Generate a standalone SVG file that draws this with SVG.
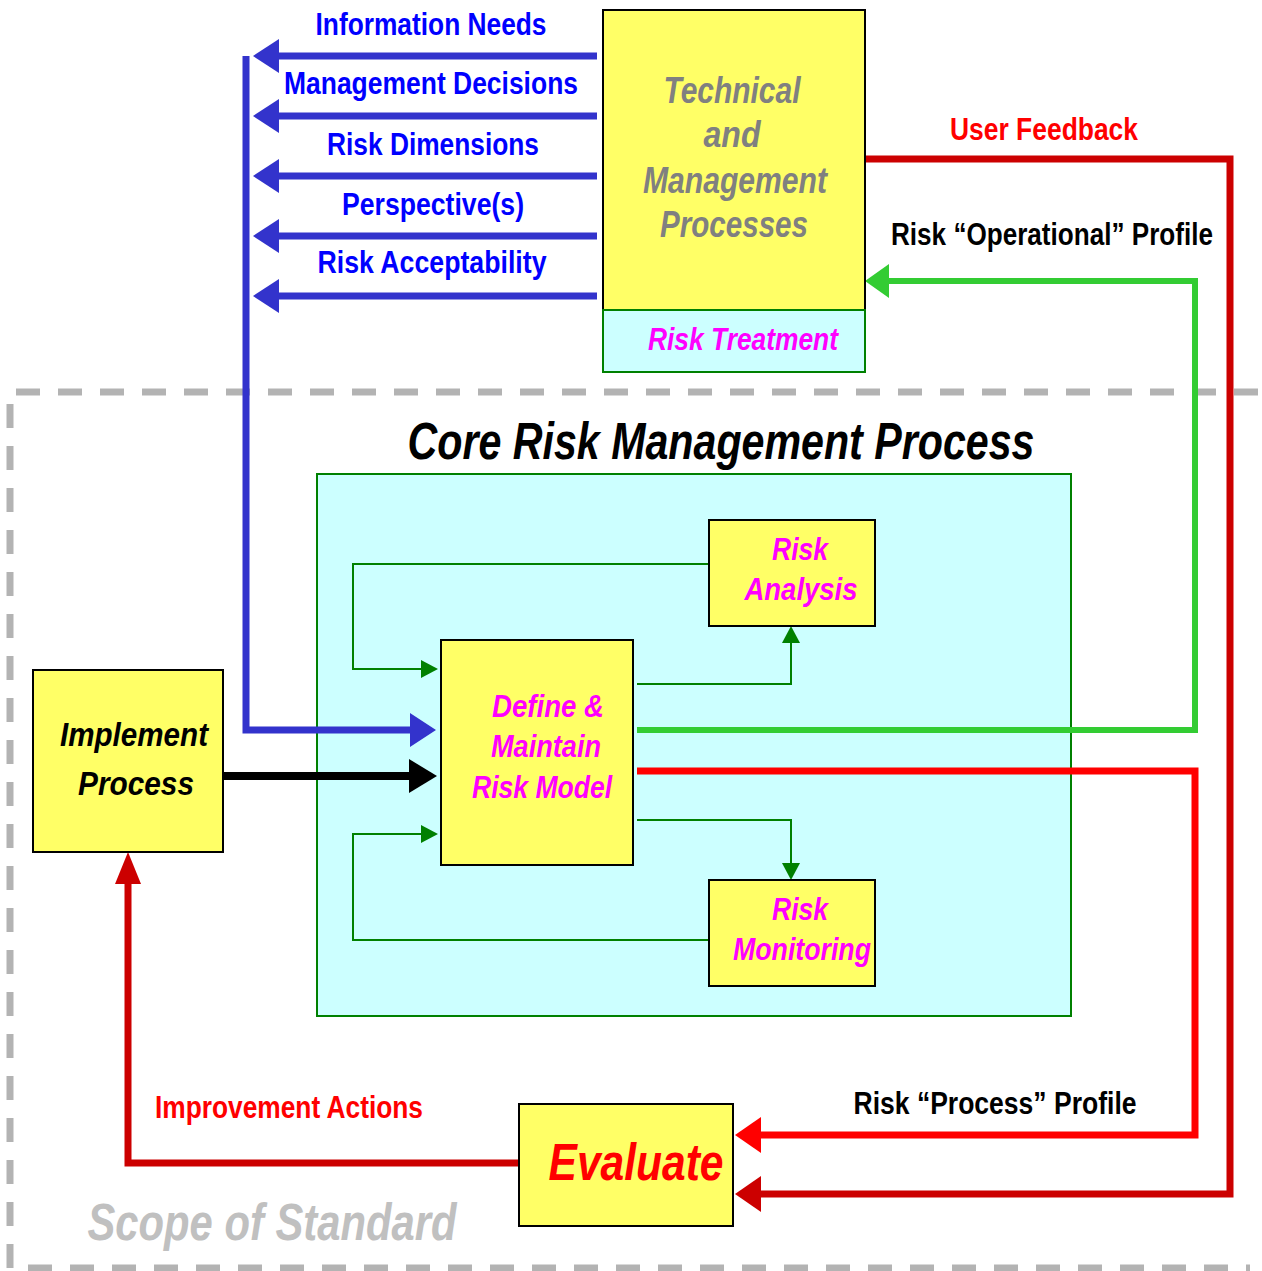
<svg xmlns="http://www.w3.org/2000/svg" width="1262" height="1271" viewBox="0 0 1262 1271">
<style>
text{font-family:"Liberation Sans",Arial,sans-serif;font-weight:bold;text-anchor:middle}
.it{font-style:italic}
.blue{fill:#0000ff;font-size:32px}
.gray{fill:#808080;font-size:36px}
.mag{fill:#ff00ff;font-size:32px}
.blk{fill:#000;font-size:32px}
.red{fill:#ff0000;font-size:32px}
.yb{fill:#ffff66;stroke:#000;stroke-width:2}
.cb{fill:#ccffff;stroke:#008000;stroke-width:2}
.ln{fill:none;stroke-linejoin:miter}
.bl{stroke:#3333cc;stroke-width:7}
.gt{stroke:#008000;stroke-width:2}
.gk{stroke:#33cc33;stroke-width:6}
.rb{stroke:#ff0000;stroke-width:7}
.rd{stroke:#cc0000;stroke-width:7}
.bk{stroke:#000;stroke-width:8}
</style>
<defs>
<marker id="aB" markerUnits="userSpaceOnUse" markerWidth="30" markerHeight="36" refX="0" refY="17" orient="auto" overflow="visible"><path d="M0,0 L26,17 L0,34 Z" fill="#3333cc"/></marker>
<marker id="aK" markerUnits="userSpaceOnUse" markerWidth="30" markerHeight="36" refX="0" refY="17" orient="auto" overflow="visible"><path d="M0,0 L28,17 L0,34 Z" fill="#000"/></marker>
<marker id="aG" markerUnits="userSpaceOnUse" markerWidth="20" markerHeight="20" refX="0" refY="9" orient="auto" overflow="visible"><path d="M0,0 L17,9 L0,18 Z" fill="#008000"/></marker>
<marker id="aGK" markerUnits="userSpaceOnUse" markerWidth="30" markerHeight="36" refX="0" refY="17" orient="auto" overflow="visible"><path d="M0,0 L24,17 L0,34 Z" fill="#33cc33"/></marker>
<marker id="aR" markerUnits="userSpaceOnUse" markerWidth="30" markerHeight="36" refX="0" refY="18" orient="auto" overflow="visible"><path d="M0,0 L26,18 L0,36 Z" fill="#ff0000"/></marker>
<marker id="aD" markerUnits="userSpaceOnUse" markerWidth="36" markerHeight="36" refX="0" refY="18" orient="auto" overflow="visible"><path d="M0,0 L26,18 L0,36 Z" fill="#cc0000"/></marker>
<marker id="aDu" markerUnits="userSpaceOnUse" markerWidth="36" markerHeight="30" refX="0" refY="13" orient="auto" overflow="visible"><path d="M0,0 L32,13 L0,26 Z" fill="#cc0000"/></marker>
</defs>
<rect width="1262" height="1271" fill="#fff"/>

<g id="scope">
<path d="M1258,392 H10 V1268 H1250" fill="none" stroke="#b3b3b3" stroke-width="7" stroke-dasharray="24,18"/>
<text x="272" y="1240" class="it" style="fill:#c0c0c0;font-size:52px" textLength="369" lengthAdjust="spacingAndGlyphs">Scope of Standard</text>
</g>

<g id="core">
<rect x="317" y="474" width="754" height="542" class="cb"/>
<text x="721" y="459" class="it blk" style="font-size:52px" textLength="627" lengthAdjust="spacingAndGlyphs">Core Risk Management Process</text>
</g>

<g id="connectors">
<path class="ln bl" d="M597,56 H279" marker-end="url(#aB)"/>
<path class="ln bl" d="M597,116 H279" marker-end="url(#aB)"/>
<path class="ln bl" d="M597,176 H279" marker-end="url(#aB)"/>
<path class="ln bl" d="M597,236 H279" marker-end="url(#aB)"/>
<path class="ln bl" d="M597,296 H279" marker-end="url(#aB)"/>
<path class="ln bl" d="M246,56 V730 H410" marker-end="url(#aB)"/>
<path class="ln bk" d="M223,776 H409" marker-end="url(#aK)"/>
<path class="ln gt" d="M709,564 H353 V669 H421" marker-end="url(#aG)"/>
<path class="ln gt" d="M637,684 H791 V643" marker-end="url(#aG)"/>
<path class="ln gt" d="M637,820 H791 V863" marker-end="url(#aG)"/>
<path class="ln gt" d="M709,940 H353 V834 H421" marker-end="url(#aG)"/>
<path class="ln gk" d="M637,730 H1195 V281 H889" marker-end="url(#aGK)"/>
<path class="ln rb" d="M637,771 H1195 V1135 H761" marker-end="url(#aR)"/>
<path class="ln rd" d="M865,159 H1230 V1194 H761" marker-end="url(#aD)"/>
<path class="ln rd" d="M519,1163 H128 V884" marker-end="url(#aDu)"/>
</g>

<g id="labels">
<text x="431" y="35" class="blue" textLength="231" lengthAdjust="spacingAndGlyphs">Information Needs</text>
<text x="431" y="94" class="blue" textLength="294" lengthAdjust="spacingAndGlyphs">Management Decisions</text>
<text x="433" y="155" class="blue" textLength="212" lengthAdjust="spacingAndGlyphs">Risk Dimensions</text>
<text x="433" y="215" class="blue" textLength="182" lengthAdjust="spacingAndGlyphs">Perspective(s)</text>
<text x="432" y="273" class="blue" textLength="229" lengthAdjust="spacingAndGlyphs">Risk Acceptability</text>
<text x="1044" y="140" class="red" textLength="188" lengthAdjust="spacingAndGlyphs">User Feedback</text>
<text x="1052" y="245" class="blk" textLength="322" lengthAdjust="spacingAndGlyphs">Risk “Operational” Profile</text>
<text x="995" y="1114" class="blk" textLength="283" lengthAdjust="spacingAndGlyphs">Risk “Process” Profile</text>
<text x="289" y="1118" class="red" textLength="268" lengthAdjust="spacingAndGlyphs">Improvement Actions</text>
</g>

<g id="tech">
<rect x="603" y="10" width="262" height="300" class="yb"/>
<text x="732" y="103" class="it gray" textLength="137" lengthAdjust="spacingAndGlyphs">Technical</text>
<text x="732" y="147" class="it gray" textLength="57" lengthAdjust="spacingAndGlyphs">and</text>
<text x="735" y="193" class="it gray" textLength="184" lengthAdjust="spacingAndGlyphs">Management</text>
<text x="734" y="237" class="it gray" textLength="148" lengthAdjust="spacingAndGlyphs">Processes</text>
</g>

<g id="treatment">
<rect x="603" y="310" width="262" height="62" class="cb"/>
<text x="743" y="350" class="it mag" textLength="190" lengthAdjust="spacingAndGlyphs">Risk Treatment</text>
</g>

<g id="analysis">
<rect x="709" y="520" width="166" height="106" class="yb"/>
<text x="800" y="560" class="it mag" textLength="56" lengthAdjust="spacingAndGlyphs">Risk</text>
<text x="801" y="600" class="it mag" textLength="113" lengthAdjust="spacingAndGlyphs">Analysis</text>
</g>

<g id="define">
<rect x="441" y="640" width="192" height="225" class="yb"/>
<text x="548" y="717" class="it mag" textLength="112" lengthAdjust="spacingAndGlyphs">Define &amp;</text>
<text x="546" y="757" class="it mag" textLength="110" lengthAdjust="spacingAndGlyphs">Maintain</text>
<text x="542" y="798" class="it mag" textLength="140" lengthAdjust="spacingAndGlyphs">Risk Model</text>
</g>

<g id="monitoring">
<rect x="709" y="880" width="166" height="106" class="yb"/>
<text x="800" y="920" class="it mag" textLength="56" lengthAdjust="spacingAndGlyphs">Risk</text>
<text x="802" y="960" class="it mag" textLength="138" lengthAdjust="spacingAndGlyphs">Monitoring</text>
</g>

<g id="implement">
<rect x="33" y="670" width="190" height="182" class="yb"/>
<text x="134" y="746" class="it blk" style="font-size:34px" textLength="148" lengthAdjust="spacingAndGlyphs">Implement</text>
<text x="136" y="795" class="it blk" style="font-size:34px" textLength="116" lengthAdjust="spacingAndGlyphs">Process</text>
</g>

<g id="evaluate">
<rect x="519" y="1104" width="214" height="122" class="yb"/>
<text x="636" y="1180" class="it red" style="font-size:52px" textLength="175" lengthAdjust="spacingAndGlyphs">Evaluate</text>
</g>
</svg>
